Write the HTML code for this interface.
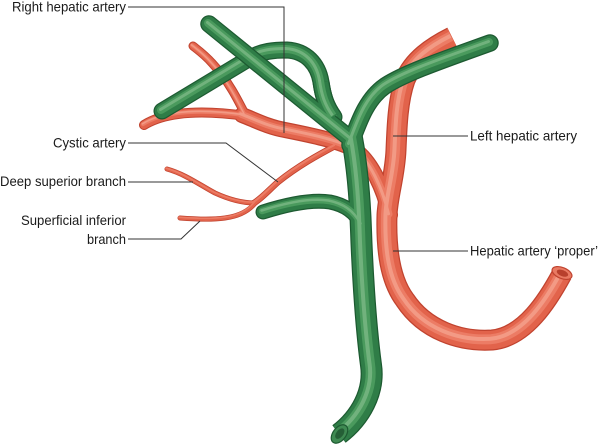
<!DOCTYPE html>
<html>
<head>
<meta charset="utf-8">
<style>
html,body{margin:0;padding:0;background:#fff;}
svg{display:block;}
text{font-family:"Liberation Sans","DejaVu Sans",sans-serif;font-size:14px;fill:#1a1a1a;}
</style>
</head>
<body>
<svg width="600" height="444" viewBox="0 0 600 444" xmlns="http://www.w3.org/2000/svg">
<defs>
  <!-- red paths -->
  <path id="rProper" d="M452,37 C432,47 413,60 405,80 C398,100 397,125 396,150 C395,175 388,195 387,215 C386,250 390,280 405,300 C425,330 460,342 492,340 C525,337 548,300 562,274"/>
  <path id="rRight" d="M390,215 C384,190 372,162 355,150 C340,141 310,135 285,130 C268,127 255,120 242,115"/>
  <path id="rLeftBr" d="M246,116 C225,113 200,111 178,114 C163,116 152,120 144,125"/>
  <path id="rUpBr" d="M247,118 C238,100 228,80 212,63 C205,55 198,50 193,46"/>
  <path id="rCystic" d="M335,146 C318,155 298,166 278,182 C268,191 262,198 254,203"/>
  <path id="rDeep" d="M255,203 C242,203 228,199 215,193 C200,185 185,174 167,169"/>
  <path id="rSup" d="M256,202 C250,210 240,216 225,218 C210,220 195,219 180,218"/>
  <!-- green paths -->
  <path id="g2" d="M162,111 L250,58 C262,51 274,50 287,50 C306,51 318,64 321,82 C323,96 326,106 334,117"/>
  <path id="gArcTail" d="M321,82 C323,96 326,106 334,117"/>
  <path id="gDiag" d="M209,24 L352,140"/>
  <path id="gMain" d="M352,138 C357,165 360,200 361,230 S365,320 371,365 C375,392 360,418 339,434"/>
  <path id="gLeft" d="M350,145 C358,125 365,100 385,86 C405,73 440,61 490,43"/>
  <path id="gLow" d="M263,212 C285,205 310,199 330,202 C345,205 355,212 362,225"/>
</defs>

<!-- ===== RED ARTERIES ===== -->
<g fill="none" stroke-linecap="round" stroke-linejoin="round">
  <g stroke="#c0432f">
    <use href="#rProper" stroke-width="21" stroke-linecap="butt"/>
    <use href="#rRight" stroke-width="16"/>
    <use href="#rLeftBr" stroke-width="10"/>
    <use href="#rUpBr" stroke-width="9"/>
    <use href="#rCystic" stroke-width="6.5"/>
    <use href="#rDeep" stroke-width="5"/>
    <use href="#rSup" stroke-width="5"/>
  </g>
  <g stroke="#e2634b">
    <use href="#rProper" stroke-width="18.5" stroke-linecap="butt"/>
    <use href="#rRight" stroke-width="13.5"/>
    <use href="#rLeftBr" stroke-width="8"/>
    <use href="#rUpBr" stroke-width="7"/>
    <use href="#rCystic" stroke-width="4.8"/>
    <use href="#rDeep" stroke-width="3.6"/>
    <use href="#rSup" stroke-width="3.6"/>
  </g>
  <g stroke="#ec7c65" transform="translate(-1,-0.8)">
    <use href="#rProper" stroke-width="10" stroke-linecap="butt"/>
    <use href="#rRight" stroke-width="7"/>
    <use href="#rLeftBr" stroke-width="4"/>
    <use href="#rUpBr" stroke-width="3.5"/>
    <use href="#rCystic" stroke-width="2.2"/>
    <use href="#rDeep" stroke-width="1.6"/>
    <use href="#rSup" stroke-width="1.6"/>
  </g>
  <g stroke="#f4a08b" transform="translate(-1.5,-1.2)" opacity="0.85">
    <use href="#rProper" stroke-width="4" stroke-linecap="butt"/>
    <use href="#rRight" stroke-width="3"/>
    <use href="#rLeftBr" stroke-width="1.6"/>
    <use href="#rUpBr" stroke-width="1.4"/>
  </g>
</g>
<!-- red open end -->
<ellipse cx="562" cy="273" rx="10.5" ry="5.5" transform="rotate(22 562 273)" fill="#e97a63" stroke="#c0432f" stroke-width="1.2"/>
<ellipse cx="562.5" cy="273" rx="6" ry="3" transform="rotate(22 562 273)" fill="#b8402d"/>

<!-- ===== GREEN DUCTS ===== -->
<g fill="none" stroke-linecap="round" stroke-linejoin="round">
  <!-- second tube (under diagonal) -->
  <use href="#g2" stroke="#1d5a31" stroke-width="17"/>
  <use href="#g2" stroke="#2f7d47" stroke-width="14.5"/>
  <use href="#g2" stroke="#4a9a5d" stroke-width="8" transform="translate(-1,-1)"/>
  <use href="#g2" stroke="#7bb886" stroke-width="3" transform="translate(-1.5,-1.5)" opacity="0.8"/>

  <!-- merged group -->
  <g stroke="#1d5a31">
    <use href="#gDiag" stroke-width="17.5"/>
    <use href="#gMain" stroke-width="22" stroke-linecap="butt"/>
    <use href="#gLeft" stroke-width="17.5"/>
    <use href="#gLow" stroke-width="15"/>
    <use href="#gArcTail" stroke-width="17" stroke-linecap="butt"/>
  </g>
  <g stroke="#2f7d47">
    <use href="#gDiag" stroke-width="15"/>
    <use href="#gMain" stroke-width="19.5" stroke-linecap="butt"/>
    <use href="#gLeft" stroke-width="15"/>
    <use href="#gLow" stroke-width="12.5"/>
    <use href="#gArcTail" stroke-width="14.5" stroke-linecap="butt"/>
  </g>
  <g stroke="#4a9a5d" transform="translate(-1,-1)">
    <use href="#gDiag" stroke-width="8"/>
    <use href="#gMain" stroke-width="10" stroke-linecap="butt"/>
    <use href="#gLeft" stroke-width="8"/>
    <use href="#gLow" stroke-width="6.5"/>
    <use href="#gArcTail" stroke-width="8" stroke-linecap="butt"/>
  </g>
  <g stroke="#7bb886" transform="translate(-1.5,-1.5)" opacity="0.8">
    <use href="#gDiag" stroke-width="3"/>
    <use href="#gMain" stroke-width="4" stroke-linecap="butt"/>
    <use href="#gLeft" stroke-width="3"/>
    <use href="#gLow" stroke-width="2.5"/>
    <use href="#gArcTail" stroke-width="3" stroke-linecap="butt"/>
  </g>
</g>
<!-- green open end -->
<ellipse cx="339.5" cy="434" rx="10.5" ry="6.5" transform="rotate(-52 339.5 434)" fill="#3f8a52" stroke="#1d5a31" stroke-width="1.2"/>
<ellipse cx="340" cy="434" rx="6" ry="3.5" transform="rotate(-52 339.5 434)" fill="#255f36"/>

<!-- ===== LEADER LINES ===== -->
<g fill="none" stroke="#333" stroke-width="1">
  <path d="M128,7 H284 V133"/>
  <path d="M128,143 H226 L278,182"/>
  <path d="M128,182 H193"/>
  <path d="M128,239 H181 L200,221"/>
  <path d="M393,136 H468"/>
  <path d="M393,251 H468"/>
</g>

<!-- ===== LABELS ===== -->
<text x="126" y="11.5" text-anchor="end" textLength="114" lengthAdjust="spacingAndGlyphs">Right hepatic artery</text>
<text x="126" y="147.5" text-anchor="end" textLength="73" lengthAdjust="spacingAndGlyphs">Cystic artery</text>
<text x="126" y="186" text-anchor="end" textLength="126" lengthAdjust="spacingAndGlyphs">Deep superior branch</text>
<text x="126" y="225" text-anchor="end" textLength="105" lengthAdjust="spacingAndGlyphs">Superficial inferior</text>
<text x="126" y="244" text-anchor="end" textLength="39" lengthAdjust="spacingAndGlyphs">branch</text>
<text x="470" y="140.5" textLength="107" lengthAdjust="spacingAndGlyphs">Left hepatic artery</text>
<text x="470" y="255.5" textLength="128" lengthAdjust="spacingAndGlyphs">Hepatic artery ‘proper’</text>
</svg>
</body>
</html>
